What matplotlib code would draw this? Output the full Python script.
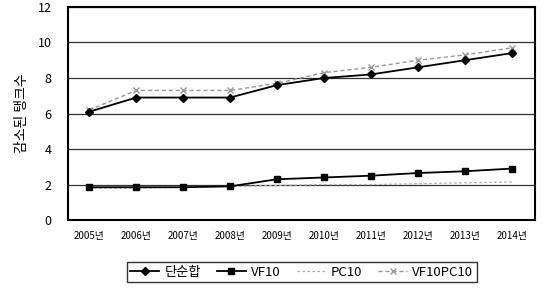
import matplotlib
matplotlib.use('Agg')
import matplotlib.pyplot as plt

plt.rcParams['font.family'] = ['Noto Sans CJK KR', 'DejaVu Sans']

# Data
years = ['2005년', '2006년', '2007년', '2008년', '2009년',
         '2010년', '2011년', '2012년', '2013년', '2014년']
simple_sum = [6.1, 6.9, 6.9, 6.9, 7.6, 8.0, 8.2, 8.6, 9.0, 9.4]
vf10 = [1.85, 1.85, 1.85, 1.9, 2.3, 2.4, 2.5, 2.65, 2.75, 2.9]
pc10 = [1.8, 1.8, 1.85, 1.9, 1.95, 2.0, 2.0, 2.05, 2.1, 2.15]
vf10pc10 = [6.2, 7.3, 7.3, 7.3, 7.7, 8.3, 8.6, 9.0, 9.3, 9.7]

fig = plt.figure(figsize=(5.45, 2.9), dpi=100)
ax = fig.add_axes([0.125, 0.241, 0.857, 0.735])

x = range(len(years))
ax.plot(x, simple_sum, marker='D', markersize=4.5, color='black', lw=1.3, label='단순합', zorder=4)
ax.plot(x, vf10, marker='s', markersize=5, color='black', lw=1.3, label='VF10', zorder=4)
ax.plot(x, pc10, color='#aaaaaa', lw=0.9, ls=(0, (2, 2)), label='PC10', zorder=3)
ax.plot(x, vf10pc10, marker='x', markersize=4, color='#999999', lw=1.0, ls=(0, (3, 2)),
        label='VF10PC10', zorder=3)

ax.set_xlim(-0.45, 9.5)
ax.set_ylim(0, 12)
ax.set_yticks(range(0, 13, 2))
ax.set_xticks(list(x))
ax.set_xticklabels(years, fontsize=7)
ax.tick_params(axis='y', labelsize=9, length=0, pad=12)
ax.tick_params(axis='x', length=0, pad=8)
ax.grid(axis='y', color='#333333', lw=0.9)
ax.set_axisbelow(True)
for s in ax.spines.values():
    s.set_linewidth(1.5)
    s.set_color('black')
ax.set_ylabel('감소된 탱크수', fontsize=10, labelpad=6)

fig.legend(loc='center', bbox_to_anchor=(0.554, 0.062), ncol=4, fontsize=9.5,
           frameon=True, fancybox=False, edgecolor='black', handlelength=2.2,
           handletextpad=0.4, columnspacing=1.2, borderpad=0.25)

fig.savefig('out.png', dpi=100)
